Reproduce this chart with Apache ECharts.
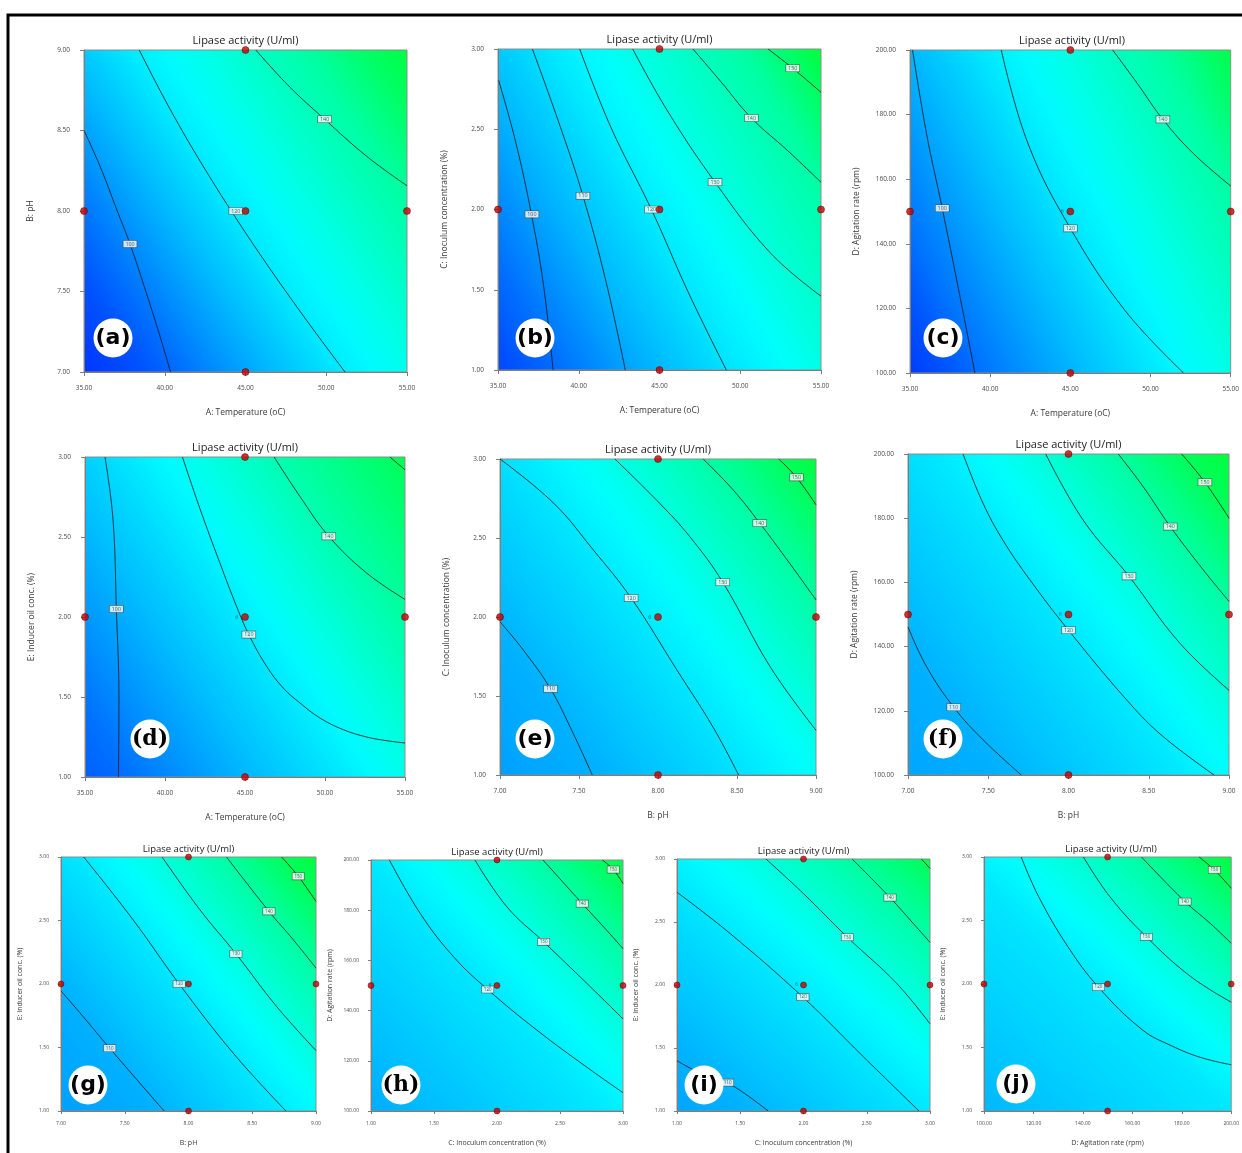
<!DOCTYPE html>
<html><head><meta charset="utf-8">
<script src="https://cdn.jsdelivr.net/npm/echarts@6/dist/echarts.min.js"></script>
<style>html,body{margin:0;padding:0;background:#fff}#c{width:1242px;height:1153px}</style>
</head><body><div id="c"></div><script>
// ---------- DATA ----------
const chartTitle = 'Lipase activity (U/ml)';
const panelLetters = ['(a)','(b)','(c)','(d)','(e)','(f)','(g)','(h)','(i)','(j)'];

const temperatureName = 'A: Temperature (oC)';
const phName = 'B: pH';
const inoculumName = 'C: Inoculum concentration (%)';
const agitationName = 'D: Agitation rate (rpm)';
const inducerName = 'E: Inducer oil conc. (%)';

const temperatureTicks = [35, 40, 45, 50, 55];
const phTicks = [7, 7.5, 8, 8.5, 9];
const inoculumTicks = [1, 1.5, 2, 2.5, 3];
const agitationTicks = [100, 120, 140, 160, 180, 200];
const inducerTicks = [1, 1.5, 2, 2.5, 3];

const temperatureLevels = [35, 45, 55];
const phLevels = [7, 8, 9];
const inoculumLevels = [1, 2, 3];
const agitationLevels = [100, 150, 200];
const inducerLevels = [1, 2, 3];
const centerReplicates = '6';

// estimated response at the low (blue) and high (green) corner of each panel, a..j
const cornerLow  = [88, 93, 90, 97, 107, 108, 107, 109, 108, 111];
const cornerHigh = [155, 157, 153, 158, 156, 156, 156, 154, 153, 156];

// contour lines [value]
const contoursA = [
  [100, [[35,8.5],[36.0,8.276],[37.06,8.0],[37.85,7.795],[39.0,7.447],[39.65,7.24],[40.36,7.0]]],
  [120, [[38.42,9],[39.7,8.75],[41.07,8.5],[42.55,8.25],[44.12,8.0],[45.77,7.75],[47.5,7.5],[49.3,7.25],[51.16,7.0]]],
  [140, [[45.64,9],[47.74,8.77],[49.9,8.57],[52.5,8.34],[55,8.157]]]
];
const labelsA = [[37.85,7.795,'100'],[44.4,8.0,'120'],[49.9,8.57,'140']];

const contoursB = [
  [100, [[35.04,2.805],[36.07,2.43],[37.06,1.975],[37.83,1.519],[38.41,1.0]]],
  [110, [[37.13,3],[38.86,2.515],[40.26,2.085],[41.68,1.554],[42.88,1.0]]],
  [120, [[40.06,3],[42.0,2.51],[44.5,2.0],[46.8,1.48],[49.14,1.0]]],
  [130, [[43.34,3],[45.46,2.62],[48.44,2.17],[51.86,1.73],[55,1.46]]],
  [140, [[47.07,3],[48.77,2.80],[50.69,2.57],[52.9,2.37],[55,2.17]]],
  [150, [[51.72,3],[53.25,2.88],[55,2.73]]]
];
const labelsB = [[37.1,1.97,'100'],[40.26,2.085,'110'],[44.5,2.0,'120'],[48.44,2.17,'130'],[50.69,2.57,'140'],[53.25,2.88,'150']];

const contoursC = [
  [100, [[35.16,200],[36.03,174.1],[37.01,151],[38.08,124.6],[39.05,100]]],
  [120, [[40.69,200],[42.36,171],[45.0,144.8],[48.4,119.4],[52.06,100]]],
  [140, [[47.64,200],[49.18,189.6],[50.77,178.5],[52.68,167.9],[55,157.9]]]
];
const labelsC = [[37.01,151,'100'],[45.0,144.8,'120'],[50.77,178.5,'140']];

const contoursD = [
  [100, [[36.25,3],[36.75,2.61],[36.96,2.05],[37.12,1.5],[37.09,1.0]]],
  [120, [[41.09,3],[42.17,2.681],[43.43,2.338],[44.47,2.067],[45.24,1.89],[46.35,1.692],[47.39,1.556],[48.43,1.463],[49.68,1.369],[51.14,1.296],[52.6,1.25],[53.85,1.227],[55,1.2125]]],
  [140, [[46.82,3],[48.43,2.754],[50.24,2.504],[52.6,2.275],[55,2.11]]],
  [150, [[54.06,3],[55,2.92]]]
];
const labelsD = [[36.96,2.05,'100'],[45.24,1.89,'120'],[50.24,2.504,'140']];

const contoursE = [
  [110, [[7,1.97],[7.148,1.79],[7.32,1.545],[7.46,1.27],[7.584,1.0]]],
  [120, [[7,3],[7.34,2.72],[7.59,2.425],[7.83,2.12],[8.12,1.664],[8.35,1.30],[8.51,1.0]]],
  [130, [[7.727,3],[8.01,2.72],[8.2,2.51],[8.41,2.22],[8.71,1.685],[9,1.283]]],
  [140, [[8.286,3],[8.475,2.805],[8.644,2.594],[8.833,2.34],[9,2.108]]],
  [150, [[8.764,3],[8.876,2.884],[9,2.71]]]
];
const labelsE = [[7.32,1.545,'110'],[7.83,2.12,'120'],[8.41,2.22,'130'],[8.644,2.594,'140'],[8.876,2.884,'150']];

const contoursF = [
  [110, [[7,146.1],[7.114,133.9],[7.285,121.1],[7.467,111],[7.706,100]]],
  [120, [[7.343,200],[7.467,184.7],[7.592,173.1],[7.758,160.9],[8.0,145.1],[8.38,122.4],[8.589,112],[8.907,100]]],
  [130, [[7.858,200],[8.09,179.5],[8.377,161.9],[8.693,141.1],[9,126.4]]],
  [140, [[8.31,200],[8.464,189.9],[8.634,177.4],[8.838,164],[9,154.1]]],
  [150, [[8.705,200],[8.85,191.2],[9,180]]]
];
const labelsF = [[7.285,121.1,'110'],[8.0,145.1,'120'],[8.377,161.9,'130'],[8.634,177.4,'140'],[8.85,191.2,'150']];

const contoursG = [
  [110, [[7,1.946],[7.173,1.744],[7.382,1.494],[7.809,1.0]]],
  [120, [[7.178,3],[7.565,2.506],[7.927,2.0],[8.351,1.455],[8.764,1.0]]],
  [130, [[7.793,3],[8.089,2.585],[8.372,2.238],[8.691,1.823],[9,1.476]]],
  [140, [[8.298,3],[8.631,2.572],[8.822,2.348],[9,2.125]]],
  [150, [[8.73,3],[8.861,2.848],[9,2.65]]]
];
const labelsG = [[7.382,1.494,'110'],[7.927,2.0,'120'],[8.372,2.238,'130'],[8.631,2.572,'140'],[8.861,2.848,'150']];

const contoursH = [
  [120, [[1.146,200],[1.392,178.6],[1.656,161.4],[1.926,148.4],[2.317,132.2],[2.714,117.4],[3,107.3]]],
  [130, [[1.825,200],[2.079,181.3],[2.37,167.4],[2.714,150.8],[3,136.7]]],
  [140, [[2.365,200],[2.677,182.6],[2.847,173.3],[3,164.7]]],
  [150, [[2.836,200],[2.923,196.2],[3,190.6]]]
];
const labelsH = [[1.926,148.4,'120'],[2.37,167.4,'130'],[2.677,182.6,'140'],[2.923,196.2,'150']];

const contoursI = [
  [110, [[1,1.399],[1.208,1.288],[1.4,1.225],[1.721,1.0]]],
  [120, [[1,2.736],[1.418,2.41],[1.995,1.904],[2.471,1.433],[2.913,1.0]]],
  [130, [[1.703,3],[1.997,2.728],[2.347,2.379],[2.734,2.015],[3,1.692]]],
  [140, [[2.384,3],[2.684,2.694],[2.866,2.49],[3,2.339]]],
  [150, [[2.932,3],[3,2.926]]]
];
const labelsI = [[1.4,1.225,'110'],[1.995,1.904,'120'],[2.347,2.379,'130'],[2.684,2.694,'140']];

const contoursJ = [
  [120, [[115.05,3],[122.1,2.688],[133.9,2.295],[146.3,1.975],[164,1.64],[175.8,1.514],[187.6,1.422],[200,1.364]]],
  [130, [[140.2,3],[150.9,2.688],[165.7,2.371],[183.6,2.059],[200,1.857]]],
  [140, [[163.7,3],[181.3,2.649],[191.5,2.478],[200,2.321]]],
  [150, [[187,3],[193.2,2.898],[200,2.754]]]
];
const labelsJ = [[146.3,1.975,'120'],[165.7,2.371,'130'],[181.3,2.649,'140'],[193.2,2.898,'150']];

// ---------- STYLE / LAYOUT ----------
const colorRamp = [
  [85,[0,40,255]],[95,[0,82,255]],[100,[0,115,255]],[110,[0,178,255]],[120,[0,232,255]],
  [125,[0,255,255]],[130,[0,255,222]],[140,[0,255,162]],[150,[0,255,92]],[160,[0,255,40]],[170,[0,255,0]]
];
function rampColor(v){
  if (v <= colorRamp[0][0]) return 'rgb(' + colorRamp[0][1].join(',') + ')';
  for (let i = 1; i < colorRamp.length; i++) {
    if (v <= colorRamp[i][0]) {
      const [v0,c0] = colorRamp[i-1], [v1,c1] = colorRamp[i];
      const f = (v - v0) / (v1 - v0);
      return 'rgb(' + c0.map((c,k) => Math.round(c + (c1[k]-c)*f)).join(',') + ')';
    }
  }
  return 'rgb(' + colorRamp[colorRamp.length-1][1].join(',') + ')';
}
// background shading: linear gradient perpendicular to the contours, coloured by the contour levels
function fieldGradient(xr, yr, contours, vLow, vHigh){
  const rel = q => [(q[0]-xr[0])/(xr[1]-xr[0]), (yr[1]-q[1])/(yr[1]-yr[0])];
  let dx = 0, dy = 0;
  contours.forEach(([v,pts]) => {
    const a = rel(pts[0]), b = rel(pts[pts.length-1]);
    let vx = b[0]-a[0], vy = b[1]-a[1];
    const L = Math.hypot(vx,vy) || 1;
    if (vy < 0 || (vy === 0 && vx < 0)) { vx = -vx; vy = -vy; }
    dx += vx/L; dy += vy/L;
  });
  let nx = dy, ny = -dx; const nl = Math.hypot(nx,ny); nx /= nl; ny /= nl;
  const corners = [[0,0],[1,0],[0,1],[1,1]];
  const cp = corners.map(r => r[0]*nx + r[1]*ny);
  const pmin = Math.min(...cp), pmax = Math.max(...cp), span = pmax - pmin;
  const s = corners[cp.indexOf(pmin)];
  const e = [s[0]+nx*span, s[1]+ny*span];
  const along = r => ((r[0]-s[0])*nx + (r[1]-s[1])*ny) / span;
  const across = r => (r[0]-s[0])*(-ny) + (r[1]-s[1])*nx;
  let st = contours.map(([v,pts]) => {
    const rs = pts.map(rel);
    let t = null;
    for (let k = 0; k < rs.length-1 && t === null; k++) {
      const w0 = across(rs[k]), w1 = across(rs[k+1]);
      if (w0 === 0) t = along(rs[k]);
      else if (w0*w1 < 0) { const f = w0/(w0-w1); t = along(rs[k]) + (along(rs[k+1])-along(rs[k]))*f; }
    }
    if (t === null) {
      let best = rs[0];
      rs.forEach(r => { if (Math.abs(across(r)) < Math.abs(across(best))) best = r; });
      t = along(best);
    }
    return [Math.min(0.99, Math.max(0.01, t)), v];
  }).sort((p,q) => p[1]-q[1]);
  const clean = [];
  st.forEach(p => { if (!clean.length || p[0] > clean[clean.length-1][0] + 0.01) clean.push(p); });
  const knots = [[0,vLow], ...clean, [1,vHigh]];
  const stops = [];
  for (let i = 0; i < knots.length-1; i++) {
    const [t0,a0] = knots[i], [t1,a1] = knots[i+1];
    for (let k = 0; k < 5; k++) {
      const f = k/5;
      stops.push({offset: t0 + (t1-t0)*f, color: rampColor(a0 + (a1-a0)*f)});
    }
  }
  stops.push({offset: 1, color: rampColor(vHigh)});
  return new echarts.graphic.LinearGradient(s[0], s[1], e[0], e[1], stops);
}

const FONT = '"Open Sans", "Noto Sans", sans-serif';
const rowStyle = {
  big:   {title:11, name:8.5, tick:6.5, lab:5.4, dot:7, tickLen:4, xGap:36, yGap:49, titleOff:9,   xm:13, ym:14},
  small: {title:9.5, name:7, tick:5, lab:4.5, dot:6, tickLen:3, xGap:28, yGap:38, titleOff:7.5, xm:10, ym:12}
};

const panels = [
  {xn:temperatureName, yn:phName,        xt:temperatureTicks, yt:phTicks,        xl:temperatureLevels, yl:phLevels,        c:contoursA, l:labelsA, rep:false, g:[84,50,323,322],   r:'big',   b:[113,338], serif:false},
  {xn:temperatureName, yn:inoculumName,  xt:temperatureTicks, yt:inoculumTicks,  xl:temperatureLevels, yl:inoculumLevels,  c:contoursB, l:labelsB, rep:false, g:[498,49,323,321],  r:'big',   b:[535,338], serif:false},
  {xn:temperatureName, yn:agitationName, xt:temperatureTicks, yt:agitationTicks, xl:temperatureLevels, yl:agitationLevels, c:contoursC, l:labelsC, rep:true,  g:[910,50,324,323],  r:'big',   b:[943,338], serif:false},
  {xn:temperatureName, yn:inducerName,   xt:temperatureTicks, yt:inducerTicks,   xl:temperatureLevels, yl:inducerLevels,   c:contoursD, l:labelsD, rep:true,  g:[85,457,320,320],  r:'big',   b:[150,739], serif:true},
  {xn:phName,          yn:inoculumName,  xt:phTicks,          yt:inoculumTicks,  xl:phLevels,          yl:inoculumLevels,  c:contoursE, l:labelsE, rep:true,  g:[500,459,316,316], r:'big',   b:[535,739], serif:false},
  {xn:phName,          yn:agitationName, xt:phTicks,          yt:agitationTicks, xl:phLevels,          yl:agitationLevels, c:contoursF, l:labelsF, rep:true,  g:[908,454,321,321], r:'big',   b:[943,739], serif:true},
  {xn:phName,          yn:inducerName,   xt:phTicks,          yt:inducerTicks,   xl:phLevels,          yl:inducerLevels,   c:contoursG, l:labelsG, rep:false, g:[61,857,255,254],  r:'small', b:[88,1085], serif:false},
  {xn:inoculumName,    yn:agitationName, xt:inoculumTicks,    yt:agitationTicks, xl:inoculumLevels,    yl:agitationLevels, c:contoursH, l:labelsH, rep:true,  g:[371,860,252,251], r:'small', b:[401,1085], serif:true},
  {xn:inoculumName,    yn:inducerName,   xt:inoculumTicks,    yt:inducerTicks,   xl:inoculumLevels,    yl:inducerLevels,   c:contoursI, l:labelsI, rep:true,  g:[677,859,253,252], r:'small', b:[704,1085], serif:false},
  {xn:agitationName,   yn:inducerName,   xt:agitationTicks,   yt:inducerTicks,   xl:agitationLevels,   yl:inducerLevels,   c:contoursJ, l:labelsJ, rep:false, g:[984,857,254,254], r:'small', b:[1016,1084], serif:false}
];

const grids = [], xAxes = [], yAxes = [], series = [], graphics = [];
graphics.push({type:'rect', shape:{x:8, y:15, width:1300, height:1250}, style:{fill:'none', stroke:'#000', lineWidth:3}, z:200});

panels.forEach((p, i) => {
  const rs = rowStyle[p.r];
  const [gl, gt, gw, gh] = p.g;
  const xr = [p.xt[0], p.xt[p.xt.length-1]], yr = [p.yt[0], p.yt[p.yt.length-1]];
  grids.push({left:gl, top:gt, width:gw, height:gh, show:true, borderColor:'#8c8c8c', borderWidth:1,
              backgroundColor: fieldGradient(xr, yr, p.c, cornerLow[i], cornerHigh[i])});
  const axisCommon = (ticks, name, gap, isX) => ({
    type:'value', gridIndex:i, min:ticks[0], max:ticks[ticks.length-1], interval:ticks[1]-ticks[0],
    name, nameLocation:'middle', nameGap:gap,
    nameTextStyle:{fontSize:rs.name, color:'#3a3a3a', fontFamily:FONT},
    axisLine:{show:true, onZero:false, lineStyle:{color:'#7d7d7d', width:1}},
    axisTick:{show:true, length:rs.tickLen, lineStyle:{color:'#7d7d7d'}},
    axisLabel:{fontSize:rs.tick, color:'#4a4a4a', fontFamily:FONT, margin: isX ? rs.xm : rs.ym, formatter: v => v.toFixed(2), showMinLabel:true, showMaxLabel:true},
    splitLine:{show:false}
  });
  xAxes.push(axisCommon(p.xt, p.xn, rs.xGap, true));
  yAxes.push(axisCommon(p.yt, p.yn, rs.yGap, false));

  p.c.forEach(([v, pts]) => {
    series.push({type:'line', xAxisIndex:i, yAxisIndex:i, data:pts, showSymbol:false, symbol:'none', smooth:0.4,
      clip:true, silent:true, z:2, lineStyle:{color:'#151515', width:0.8}});
  });
  series.push({type:'scatter', xAxisIndex:i, yAxisIndex:i, data:p.l, symbolSize:2, silent:true, z:3,
    itemStyle:{color:'rgba(0,0,0,0)'},
    label:{show:true, position:'inside', formatter: d => d.data[2], fontSize:rs.lab, color:'#333', fontFamily:FONT,
      backgroundColor:'#fff', borderColor:'#444', borderWidth:0.6, padding:[1,2,0.5,2]}});
  const design = [[p.xl[1], p.yl[0]], [p.xl[1], p.yl[2]], [p.xl[0], p.yl[1]], [p.xl[2], p.yl[1]], [p.xl[1], p.yl[1]]];
  series.push({type:'scatter', xAxisIndex:i, yAxisIndex:i, data:design, symbolSize:rs.dot, silent:true, z:4, clip:false,
    itemStyle:{color:'#c40000', borderColor:'#600000', borderWidth:0.6}});
  if (p.rep) {
    series.push({type:'scatter', xAxisIndex:i, yAxisIndex:i, data:[design[4]], symbolSize:2, silent:true, z:4,
      itemStyle:{color:'rgba(0,0,0,0)'},
      label:{show:true, position:'left', distance: rs.dot*0.8, formatter: centerReplicates, fontSize:rs.lab, color:'#0a4a5a', fontFamily:FONT}});
  }
  graphics.push({type:'text', x: gl + gw/2, y: gt - rs.titleOff, z:50,
    style:{text: chartTitle, font: rs.title + 'px ' + FONT, fill:'#222', align:'center', verticalAlign:'middle'}});
  graphics.push({type:'circle', shape:{cx:p.b[0], cy:p.b[1], r:19.5}, style:{fill:'#fff'}, z:60});
  graphics.push({type:'text', x:p.b[0], y:p.b[1]+0.5, z:61,
    style:{text: panelLetters[i], font: 'bold 22px ' + (p.serif ? '"DejaVu Serif", serif' : '"DejaVu Sans", sans-serif'),
      fill:'#000', align:'center', verticalAlign:'middle'}});
});

const chart = echarts.init(document.getElementById('c'), null, {renderer:'canvas'});
chart.setOption({
  backgroundColor:'#fff',
  animation:false,
  grid: grids, xAxis: xAxes, yAxis: yAxes, series,
  graphic: {elements: graphics}
});
</script></body></html>
